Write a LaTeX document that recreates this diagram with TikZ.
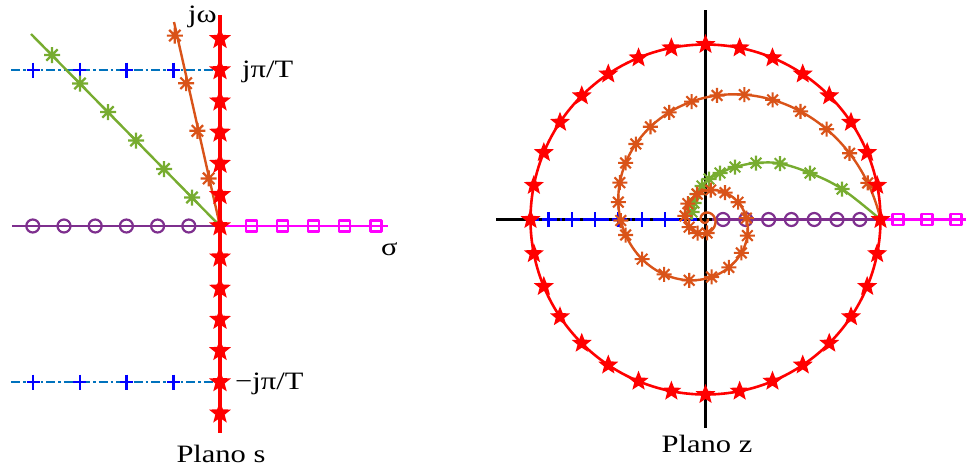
\documentclass[tikz,border=0pt]{standalone}
\usepackage{fontspec}
\setmainfont{Liberation Serif}[FakeStretch=1.22]
\definecolor{mred}{RGB}{255,0,0}
\definecolor{morange}{RGB}{217,83,25}
\definecolor{mgreen}{RGB}{119,172,48}
\definecolor{mpurple}{RGB}{126,47,142}
\definecolor{mmag}{RGB}{255,0,255}
\definecolor{mblue}{RGB}{0,0,255}
\definecolor{mlblue}{RGB}{0,114,189}
\begin{document}
\begin{tikzpicture}[x=1pt,y=-1pt,line join=round,
  lbl/.style={font=\fontsize{25}{29}\selectfont,inner sep=0pt},
  dashdot/.style={line width=2.6pt,dash pattern=on 9pt off 3pt on 2.5pt off 3pt},
  starS/.pic={\fill[mred] (270:11.5) -- (306:4.9) -- (342:11.5) -- (18:4.9) -- (54:11.5) -- (90:4.9) -- (126:11.5) -- (162:4.9) -- (198:11.5) -- (234:4.9) -- cycle;},
  starZ/.pic={\fill[mred] (270:10.5) -- (306:4.5) -- (342:10.5) -- (18:4.5) -- (54:10.5) -- (90:4.5) -- (126:10.5) -- (162:4.5) -- (198:10.5) -- (234:4.5) -- cycle;},
  astm/.pic={\draw[line width=2.2pt] (-8,0)--(8,0) (0,-8)--(0,8) (-5.7,-5.7)--(5.7,5.7) (-5.7,5.7)--(5.7,-5.7);},
  astz/.pic={\draw[line width=2.1pt] (-7.5,0)--(7.5,0) (0,-7.5)--(0,7.5) (-5.3,-5.3)--(5.3,5.3) (-5.3,5.3)--(5.3,-5.3);},
  crossm/.pic={\draw[mblue,line width=2.4pt] (-6.5,0)--(6.5,0) (0,-7.5)--(0,7.5);},
  circm/.pic={\draw[mpurple,line width=2.2pt] (0,0) circle[radius=6.5pt];},
  sqm/.pic={\draw[mmag,line width=2.2pt] (-5.5,-5.5) rectangle (5.5,5.5);}
]
\useasboundingbox (0,0) rectangle (969,467);
% ---------------- s plane ----------------
\coordinate (sO) at (220,226);
\coordinate (sTop) at (220,15);
\coordinate (sBot) at (220,433);
\coordinate (sL) at (12,226);
\coordinate (sR) at (388,226);
\coordinate (bU0) at (11,70);
\coordinate (bU1) at (220,70);
\coordinate (bD0) at (11,382);
\coordinate (bD1) at (220,382);
\coordinate (gEnd) at (31,34);
\coordinate (oEnd) at (174,22);
% blue dash-dot lines
\draw[mlblue,dashdot] (bU0) -- (bU1);
\draw[mlblue,dashdot] (bD0) -- (bD1);
\foreach \k in {1,...,4}{
  \pic at ({220-46.7*\k},70) {crossm};
  \pic at ({220-46.7*\k},382) {crossm};
}
% purple
\draw[mpurple,line width=2.4pt] (sL) -- (sO);
\foreach \k in {1,...,6} \pic at ({220-31.2*\k},226) {circm};
% magenta
\draw[mmag,line width=2.4pt] (sO) -- (sR);
\foreach \k in {1,...,5} \pic at ({220+31.2*\k},226) {sqm};
% green
\draw[mgreen,line width=2.4pt] (sO) -- (gEnd);
\foreach \k in {1,...,6} \pic[color=mgreen] at ({220-28*\k},{226-28.5*\k}) {astm};
% orange
\draw[morange,line width=2.4pt] (sO) -- (oEnd);
\foreach \k in {1,...,4} \pic[color=morange] at ({220-11.3*\k},{226-47.6*\k}) {astm};
% red axis
\draw[mred,line width=3.2pt] (sTop) -- (sBot);
\foreach \k in {-6,...,6} \pic at (220,{226-31.2*\k}) {starS};
% labels
\node[lbl,anchor=base west] (ljw) at (188,22) {jω};
\node[lbl,anchor=base west] (ljpt) at (242,77) {jπ/T};
\node[lbl,anchor=base west] (lmjpt) at (235,389) {−jπ/T};
\node[lbl,anchor=base west] (lsig) at (381,255) {σ};
\node[lbl,anchor=base] (lps) at (221,462) {Plano s};
% ---------------- z plane ----------------
\coordinate (zO) at (705.5,219.5);
\coordinate (zL) at (496,219.5);
\coordinate (zR) at (880.5,219.5);
\coordinate (zT) at (705.5,10);
\coordinate (zB) at (705.5,428);
\coordinate (zBl0) at (530,219.5);
\coordinate (zBl1) at (699,219.5);
\coordinate (zP0) at (712,219.5);
\coordinate (zM1) at (966,219.5);
\draw[black,line width=2.6pt] (zL) -- (zR);
\draw[black,line width=2.6pt] (zT) -- (zB);
% blue
\draw[mblue,dashdot] (zBl0) -- (zBl1);
\foreach \k in {0,...,5} \pic at ({548.5+23.3*\k},219.5) {crossm};
% purple
\draw[mpurple,line width=2.4pt] (zP0) -- (zR);
\foreach \k in {0,...,6} \pic at ({723+22.8*\k},219.5) {circm};
% magenta
\draw[mmag,line width=2.4pt] (zR) -- (zM1);
\foreach \k in {0,...,2} \pic at ({898+29*\k},219.5) {sqm};
% green spiral
\draw[mgreen,line width=2.4pt] plot[smooth,tension=0.6] coordinates {(880.5,219.5) (842,189) (810,173) (780,163.5) (756,163) (735,167) (720,173) (709,179) (702,186) (697,194) (694,203) (692,212) (691,219)};
\foreach \p in {(842,189),(810,173),(780,163.5),(756,163),(735,167),(720,173),(709,179),(702,186),(697,194),(694,203),(692,212)}
  \pic[color=mgreen] at \p {astz};
% orange spiral
\draw[morange,line width=2.4pt] plot[domain=0:1100,samples=500,smooth,variable=\t]
  ({705.5+175*exp(-0.23*\t*pi/180)*cos(\t)},{219.5-175*exp(-0.23*\t*pi/180)*sin(\t)});
\foreach \a in {12.7,24.7,36.7,48.7,60.7,72.7,84.7,96.7,108.7,120.7,132.7,144.7,156.7,168.7,180.7,191,212,233,255,276,296,317,339,362,388,414,440,468,498,530,565,600,637}
  \pic[color=morange] at ({705.5+175*exp(-0.23*\a*pi/180)*cos(\a)},{219.5-175*exp(-0.23*\a*pi/180)*sin(\a)}) {astz};
% red circle
\draw[mred,line width=2.6pt] (zO) circle[radius=175pt];
\foreach \i in {0,...,31} \pic at ({705.5+175*cos(11.25*\i)},{219.5-175*sin(11.25*\i)}) {starZ};
\node[lbl,anchor=base] (lpz) at (707,452) {Plano z};
\end{tikzpicture}
\end{document}
